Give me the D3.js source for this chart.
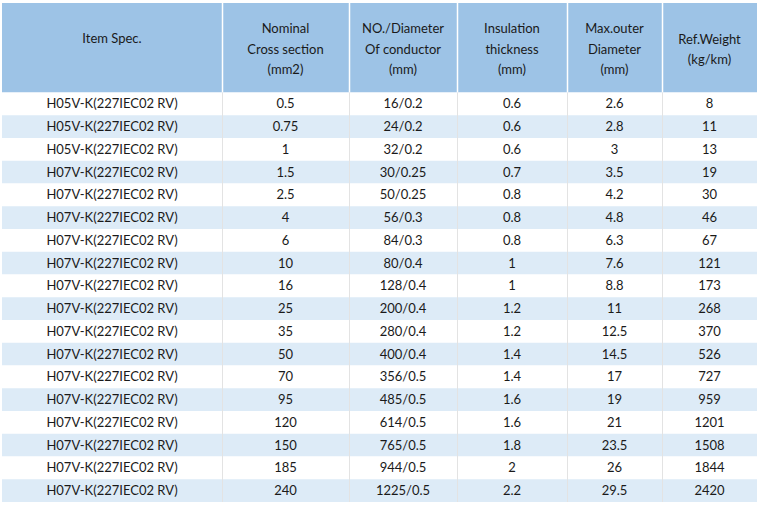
<!DOCTYPE html>
<html>
<head>
<meta charset="utf-8">
<script src="https://cdn.jsdelivr.net/npm/d3@7"></script>
<style>
html,body{margin:0;padding:0;background:#fff;}
svg{display:block;}
text{font-family:Lato,"Open Sans",sans-serif;fill:#1a1a1a;}
</style>
</head>
<body>
<svg id="chart" width="761" height="506"></svg>
<script>
const headers = [
  ["Item Spec."],
  ["Nominal","Cross section","(mm2)"],
  ["NO./Diameter","Of conductor","(mm)"],
  ["Insulation","thickness","(mm)"],
  ["Max.outer","Diameter","(mm)"],
  ["Ref.Weight","(kg/km)"]
];
const itemSpec = ["H05V-K(227IEC02 RV)","H05V-K(227IEC02 RV)","H05V-K(227IEC02 RV)",
  "H07V-K(227IEC02 RV)","H07V-K(227IEC02 RV)","H07V-K(227IEC02 RV)","H07V-K(227IEC02 RV)",
  "H07V-K(227IEC02 RV)","H07V-K(227IEC02 RV)","H07V-K(227IEC02 RV)","H07V-K(227IEC02 RV)",
  "H07V-K(227IEC02 RV)","H07V-K(227IEC02 RV)","H07V-K(227IEC02 RV)","H07V-K(227IEC02 RV)",
  "H07V-K(227IEC02 RV)","H07V-K(227IEC02 RV)","H07V-K(227IEC02 RV)"];
const crossSection = ["0.5","0.75","1","1.5","2.5","4","6","10","16","25","35","50","70","95","120","150","185","240"];
const conductor = ["16/0.2","24/0.2","32/0.2","30/0.25","50/0.25","56/0.3","84/0.3","80/0.4","128/0.4","200/0.4","280/0.4","400/0.4","356/0.5","485/0.5","614/0.5","765/0.5","944/0.5","1225/0.5"];
const insulation = ["0.6","0.6","0.6","0.7","0.8","0.8","0.8","1","1","1.2","1.2","1.4","1.4","1.6","1.6","1.8","2","2.2"];
const maxOuter = ["2.6","2.8","3","3.5","4.2","4.8","6.3","7.6","8.8","11","12.5","14.5","17","19","21","23.5","26","29.5"];
const refWeight = ["8","11","13","19","30","46","67","121","173","268","370","526","727","959","1201","1508","1844","2420"];

const columns = [itemSpec, crossSection, conductor, insulation, maxOuter, refWeight];
const rows = d3.range(itemSpec.length).map(i => columns.map(c => c[i]));

// layout
const colEdges = [2, 222, 349, 457, 567, 662, 757];
const tableTop = 3, headerBottom = 92.5, tableBottom = 502;
const fontSize = 13;

const svg = d3.select("#chart");
const y = d3.scaleBand().domain(d3.range(rows.length)).range([headerBottom, tableBottom]).padding(0);
const colX = i => colEdges[i];
const colW = i => colEdges[i+1] - colEdges[i];

// header background
svg.append("rect").attr("x", colEdges[0]).attr("y", tableTop)
  .attr("width", colEdges[6]-colEdges[0]).attr("height", headerBottom-tableTop)
  .attr("fill", "#9dc3e6");

// body rows
svg.selectAll("rect.row").data(rows).join("rect").attr("class","row")
  .attr("x", colEdges[0]).attr("y", (d,i)=>y(i))
  .attr("width", colEdges[6]-colEdges[0]).attr("height", y.bandwidth())
  .attr("fill", (d,i)=> i%2===0 ? "#ffffff" : "#ddebf7");

// vertical lines
const inner = colEdges.slice(1,-1);
svg.selectAll("line.vh").data(inner).join("line").attr("class","vh")
  .attr("x1", d=>d+0.5).attr("x2", d=>d+0.5).attr("y1", tableTop).attr("y2", headerBottom)
  .attr("stroke", "#ffffff").attr("stroke-width", 1.5);
svg.selectAll("line.vb").data(inner).join("line").attr("class","vb")
  .attr("x1", d=>d+0.5).attr("x2", d=>d+0.5).attr("y1", headerBottom).attr("y2", tableBottom)
  .attr("stroke", "#e3e3e3").attr("stroke-width", 1);

// header text
const lineH = 20.5;
const hMid = (tableTop + headerBottom)/2 + 1.5;
headers.forEach((lines, ci) => {
  const cx = colX(ci) + colW(ci)/2;
  const mid = lines.length === 1 ? 38.5 : hMid;
  const t = svg.append("text").attr("text-anchor","middle").attr("font-size", fontSize);
  lines.forEach((ln, li) => {
    t.append("tspan").attr("x", cx)
      .attr("y", mid + (li - (lines.length-1)/2)*lineH)
      .attr("dy","0.35em").text(ln);
  });
});

// body text
rows.forEach((r, ri) => {
  svg.selectAll(null).data(r).join("text")
    .attr("x", (d,ci)=> colX(ci) + colW(ci)/2)
    .attr("y", y(ri) + y.bandwidth()/2)
    .attr("dy","0.35em").attr("text-anchor","middle").attr("font-size", fontSize)
    .text(d=>d);
});
</script>
</body>
</html>
